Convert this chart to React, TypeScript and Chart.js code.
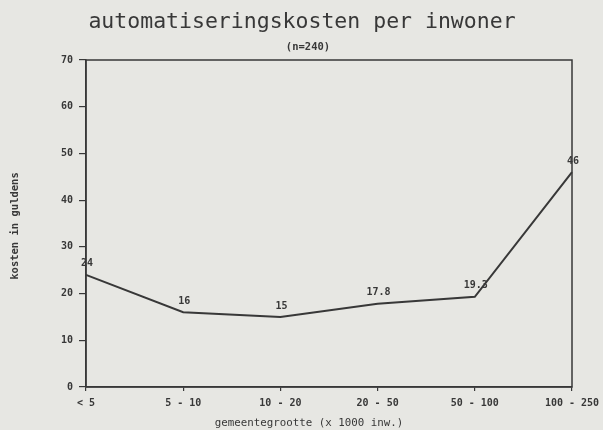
import React, { useEffect, useRef } from "react";
import { Chart, registerables } from "chart.js";

Chart.register(...registerables);

const categories = ["< 5", "5 - 10", "10 - 20", "20 - 50", "50 - 100", "100 - 250"];
const costs = [24, 16, 15, 17.8, 19.3, 46];
const costLabels = ["24", "16", "15", "17.8", "19.3", "46"];
const yMin = 0;
const yMax = 70;
const yStep = 10;

const titleText = "automatiseringskosten per inwoner";
const subtitleText = "(n=240)";
const xTitleText = "gemeentegrootte (x 1000 inw.)";
const yTitleText = "kosten in guldens";

const PAPER = "#e7e7e3";
const INK = "#383838";
const MONO = '"DejaVu Sans Mono", "Liberation Mono", monospace';

const decorPlugin = {
  id: "decor",
  beforeDraw(chart: any) {
    const ctx = chart.ctx;
    ctx.save();
    ctx.fillStyle = PAPER;
    ctx.fillRect(0, 0, chart.width, chart.height);
    ctx.restore();
  },
  afterDraw(chart: any) {
    const ctx = chart.ctx;
    const a = chart.chartArea;
    ctx.save();
    // frame
    ctx.strokeStyle = INK;
    ctx.lineWidth = 1.5;
    ctx.strokeRect(a.left, a.top, a.right - a.left, a.bottom - a.top);

    ctx.fillStyle = INK;
    ctx.textAlign = "center";
    ctx.textBaseline = "middle";

    // title
    ctx.font = `21.5px ${MONO}`;
    ctx.fillText(titleText, 302, 22);

    // subtitle
    ctx.font = `bold 10.5px ${MONO}`;
    ctx.fillText(subtitleText, 308, 47);

    // x title
    ctx.font = `10.8px ${MONO}`;
    ctx.fillText(xTitleText, 309, 423);

    // y title
    ctx.save();
    ctx.translate(15, 226);
    ctx.rotate(-Math.PI / 2);
    ctx.font = `bold 10.5px ${MONO}`;
    ctx.fillText(yTitleText, 0, 0);
    ctx.restore();

    // data labels
    const meta = chart.getDatasetMeta(0);
    ctx.font = `bold 10px ${MONO}`;
    meta.data.forEach((p: any, i: number) => {
      ctx.fillText(costLabels[i], p.x + 1, p.y - 11);
    });
    ctx.restore();
  },
};

export default function App() {
  const canvasRef = useRef<HTMLCanvasElement | null>(null);

  useEffect(() => {
    if (!canvasRef.current) return;
    const chart = new Chart(canvasRef.current, {
      type: "line",
      data: {
        labels: categories,
        datasets: [
          {
            data: costs,
            borderColor: INK,
            borderWidth: 2,
            pointRadius: 0,
            tension: 0,
            fill: false,
          },
        ],
      },
      options: {
        responsive: false,
        animation: false,
        devicePixelRatio: 1,
        layout: { padding: { left: 0, top: 60, right: 31, bottom: 0 } },
        plugins: {
          legend: { display: false },
          title: { display: false },
          tooltip: { enabled: false },
        },
        scales: {
          x: {
            type: "category",
            offset: false,
            afterFit: (s: any) => {
              s.height = 43;
              s.paddingLeft = 0;
              s.paddingRight = 0;
            },
            border: { display: true, color: INK, width: 1.5 },
            grid: {
              display: true,
              drawOnChartArea: false,
              drawTicks: true,
              tickLength: 4,
              color: INK,
              lineWidth: 1.2,
            },
            ticks: {
              color: INK,
              font: { family: MONO, size: 10, weight: "bold" },
              padding: 6,
              maxRotation: 0,
              autoSkip: false,
            },
          },
          y: {
            min: yMin,
            max: yMax,
            afterFit: (s: any) => {
              s.width = 86;
              s.paddingTop = 0;
              s.paddingBottom = 0;
            },
            border: { display: true, color: INK, width: 1.5 },
            grid: {
              display: true,
              drawOnChartArea: false,
              drawTicks: true,
              tickLength: 7,
              color: INK,
              lineWidth: 1.2,
            },
            ticks: {
              stepSize: yStep,
              color: INK,
              font: { family: MONO, size: 10, weight: "bold" },
              padding: 6,
            },
          },
        },
      } as any,
      plugins: [decorPlugin],
    });
    return () => chart.destroy();
  }, []);

  return (
    <div
      style={{
        position: "fixed",
        left: 0,
        top: 0,
        width: 603,
        height: 430,
        background: PAPER,
      }}
    >
      <canvas ref={canvasRef} width={603} height={430} style={{ display: "block" }} />
    </div>
  );
}
